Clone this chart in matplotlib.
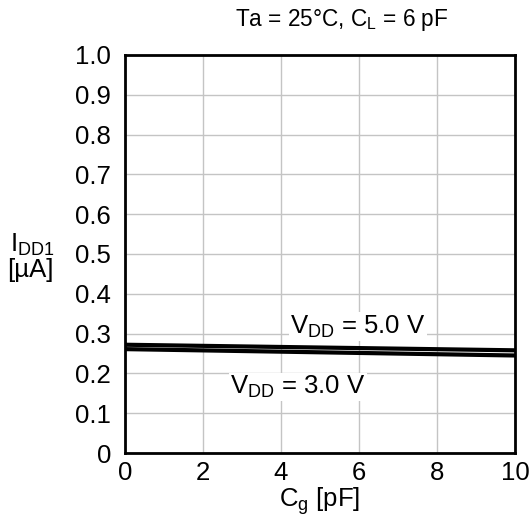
import matplotlib
matplotlib.use('Agg')
import matplotlib.pyplot as plt

plt.rcParams['font.family'] = ['Liberation Sans', 'DejaVu Sans']
plt.rcParams['mathtext.fontset'] = 'custom'
plt.rcParams['mathtext.rm'] = 'Liberation Sans'
plt.rcParams['mathtext.it'] = 'Liberation Sans'

# ─── Data ─────────────────────────────────────────────────────────────────────
cg = [0, 10]
idd_5v = [0.272, 0.258]
idd_3v = [0.261, 0.245]

xticks = [0, 2, 4, 6, 8, 10]
yticks = [0.0, 0.1, 0.2, 0.3, 0.4, 0.5, 0.6, 0.7, 0.8, 0.9, 1.0]
ytick_labels = ['0', '0.1', '0.2', '0.3', '0.4', '0.5', '0.6', '0.7', '0.8', '0.9', '1.0']

FS = 18.5

# ─── Plot ─────────────────────────────────────────────────────────────────────
fig = plt.figure(figsize=(5.31, 5.21), dpi=100)
ax = fig.add_axes([0.2354, 0.1305, 0.7346, 0.764])

ax.plot(cg, idd_5v, color='black', lw=3, solid_capstyle='butt', zorder=3)
ax.plot(cg, idd_3v, color='black', lw=3, solid_capstyle='butt', zorder=3)

ax.set_xlim(0, 10)
ax.set_ylim(0, 1.0)
ax.set_xticks(xticks)
ax.set_yticks(yticks)
ax.set_yticklabels(ytick_labels)
ax.tick_params(length=0, labelsize=FS)
ax.tick_params(axis='y', pad=10)
ax.tick_params(axis='x', pad=6)
ax.grid(True, color='#c4c4c4', lw=1)
ax.set_axisbelow(True)
for s in ax.spines.values():
    s.set_linewidth(2)

ax.text(5.97, 0.317, r'V$_{\mathrm{DD}}$ = 5.0 V', fontsize=FS, ha='center', va='center',
        bbox=dict(facecolor='white', edgecolor='none', pad=1), zorder=4)
ax.text(4.44, 0.166, r'V$_{\mathrm{DD}}$ = 3.0 V', fontsize=FS, ha='center', va='center',
        bbox=dict(facecolor='white', edgecolor='none', pad=1), zorder=4)

ax.set_xlabel(r'C$_{\mathrm{g}}$ [pF]', fontsize=FS, labelpad=0)
fig.text(0.060, 0.530, 'I$_{\\mathrm{DD1}}$', fontsize=FS, ha='center', va='center')
fig.text(0.058, 0.482, '[µA]', fontsize=FS, ha='center', va='center')
fig.text(0.644, 0.962, r'Ta = 25°C, C$_{\mathrm{L}}$ = 6 pF', fontsize=16.3, ha='center', va='center')

fig.savefig('out.png', dpi=100)
